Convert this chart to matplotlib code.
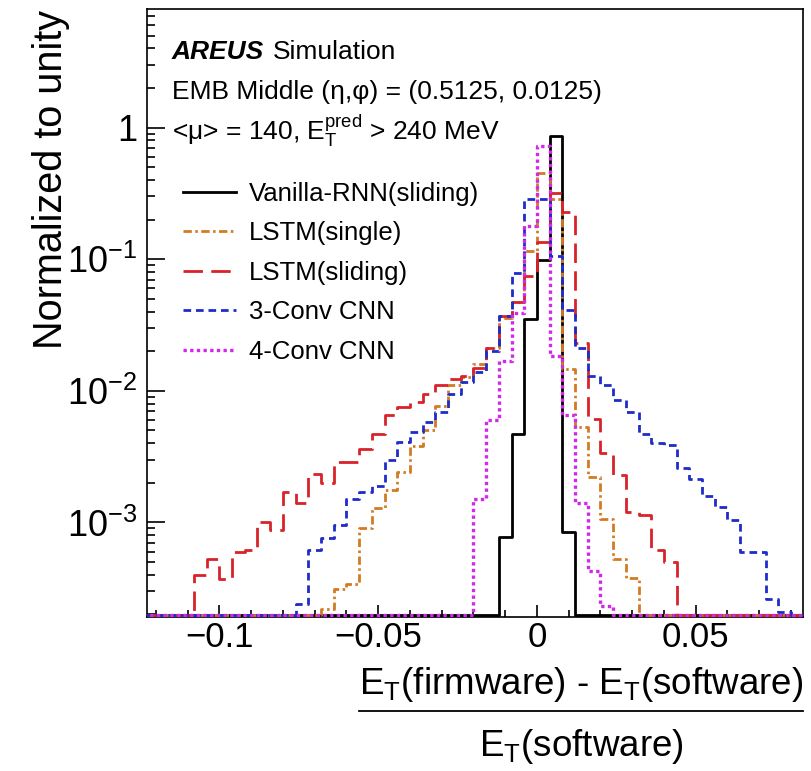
import numpy as np
import matplotlib.pyplot as plt
from matplotlib.lines import Line2D
from matplotlib.ticker import LogLocator, MultipleLocator, NullFormatter

plt.rcParams['font.family'] = ['Liberation Sans', 'DejaVu Sans']
plt.rcParams['mathtext.fontset'] = 'custom'
plt.rcParams['mathtext.rm'] = 'Liberation Sans'
plt.rcParams['mathtext.it'] = 'Liberation Sans:italic'
plt.rcParams['mathtext.bf'] = 'Liberation Sans:bold'
plt.rcParams['lines.scale_dashes'] = False

# histogram binning: 52 bins of 0.004 from -0.124 to 0.084
x_lo, x_hi, n_bins = -0.124, 0.084, 52

# normalized bin contents (0 = empty bin)
vanilla_rnn = [0, 0, 0, 0, 0, 0, 0, 0, 0, 0, 0, 0, 0,
               0, 0, 0, 0, 0, 0, 0, 0, 0, 0, 0, 0, 0,
               0, 0, 7.8e-4, 4.7e-3, 0.035, 0.098, 0.86, 8.5e-4, 0, 0, 0, 0, 0,
               0, 0, 0, 0, 0, 0, 0, 0, 0, 0, 0, 0, 0]
lstm_single = [0, 0, 0, 0, 0, 0, 0, 0, 0, 0, 0, 0, 0,
               0, 2.2e-4, 3.1e-4, 3.4e-4, 9.0e-4, 1.28e-3, 1.75e-3, 2.4e-3, 3.8e-3, 5.0e-3, 7.7e-3, 0.011, 0.0127,
               0.016, 0.021, 0.036, 0.047, 0.116, 0.45, 0.285, 0.0147, 5.3e-3, 2.2e-3, 1.07e-3, 5.3e-4, 3.8e-4,
               0, 0, 0, 0, 0, 0, 0, 0, 0, 0, 0, 0, 0]
lstm_sliding = [0, 0, 0, 0, 4.0e-4, 5.3e-4, 3.7e-4, 6.0e-4, 6.2e-4, 1.0e-3, 8.8e-4, 1.7e-3, 1.4e-3,
                2.35e-3, 2.0e-3, 2.9e-3, 2.9e-3, 3.6e-3, 4.7e-3, 6.5e-3, 7.5e-3, 8.2e-3, 9.5e-3, 0.011, 0.0122, 0.013,
                0.015, 0.021, 0.037, 0.047, 0.075, 0.135, 0.32, 0.23, 0.023, 6.1e-3, 3.4e-3, 2.3e-3, 1.2e-3,
                1.14e-3, 6.2e-4, 5.0e-4, 0, 0, 0, 0, 0, 0, 0, 0, 0, 0]
cnn_3conv = [0, 0, 0, 0, 0, 0, 0, 0, 0, 0, 0, 0, 2.4e-4,
             6.2e-4, 7.6e-4, 9.5e-4, 1.5e-3, 1.7e-3, 1.9e-3, 3.0e-3, 4.1e-3, 4.9e-3, 5.8e-3, 6.9e-3, 9.5e-3, 0.0116,
             0.014, 0.020, 0.037, 0.079, 0.285, 0.285, 0.106, 0.041, 0.021, 0.013, 0.011, 8.5e-3, 6.9e-3,
             4.7e-3, 4.0e-3, 3.9e-3, 2.6e-3, 2.15e-3, 1.6e-3, 1.3e-3, 1.04e-3, 6.0e-4, 6.0e-4, 2.6e-4, 2.1e-4, 0]
cnn_4conv = [0, 0, 0, 0, 0, 0, 0, 0, 0, 0, 0, 0, 0,
             0, 0, 0, 0, 0, 0, 0, 0, 0, 0, 0, 0, 0,
             1.5e-3, 6.0e-3, 0.017, 0.039, 0.18, 0.73, 0.0185, 6.5e-3, 1.4e-3, 4.3e-4, 2.3e-4, 0, 0,
             0, 0, 0, 0, 0, 0, 0, 0, 0, 0, 0, 0, 0]

labels = ['Vanilla-RNN(sliding)', 'LSTM(single)', 'LSTM(sliding)', '3-Conv CNN', '4-Conv CNN']
colors = ['black', '#d27b24', '#d8232a', '#1f2dc8', '#cf2ae8']
styles = ['-', (0, (6, 2.5, 1.8, 2.5)), (0, (14, 6)), (0, (5.5, 3.5)), (0, (2.4, 2.4))]

xticks = [-0.1, -0.05, 0, 0.05]
xtick_labels = ['\u22120.1', '\u22120.05', '0', '0.05']
yticks = [1e-3, 1e-2, 1e-1, 1]
ytick_labels = ['$10^{-3}$', '$10^{-2}$', '$10^{-1}$', '1']

y_min, y_max = 1.97e-4, 7.97

W, H = 811, 771
fig = plt.figure(figsize=(W / 100, H / 100), dpi=100)
ax = fig.add_axes([147 / W, 1 - 617 / H, (803 - 147) / W, (617 - 9) / H])

edges = np.linspace(x_lo, x_hi, n_bins + 1)
for lab, vals, col, ls in zip(labels, [vanilla_rnn, lstm_single, lstm_sliding, cnn_3conv, cnn_4conv], colors, styles):
    v = np.array(vals, dtype=float)
    v = np.where(v > 0, v, y_min)  # empty bins sit on the frame bottom, like ROOT
    lw = 2.4 if col == '#cf2ae8' else 2.0
    ax.step(edges, np.append(v, v[-1]), where='post', color=col, linestyle=ls,
            lw=lw, label=lab, dash_capstyle='butt', zorder=3)

ax.set_yscale('log')
ax.set_xlim(-0.1228, 0.0838)
ax.set_ylim(y_min / 1.03, y_max)
ax.set_xticks(xticks, xtick_labels)
ax.xaxis.set_minor_locator(MultipleLocator(0.01))
ax.set_yticks(yticks, ytick_labels)
ax.yaxis.set_minor_locator(LogLocator(base=10, subs=np.arange(2, 10)))
ax.yaxis.set_minor_formatter(NullFormatter())

ax.tick_params(which='both', direction='in', top=False, right=False, width=1.2)
ax.tick_params(axis='y', which='major', length=13, pad=7, labelsize=26)
ax.tick_params(axis='y', which='minor', length=6)
ax.tick_params(axis='x', which='major', length=8.5, pad=3, labelsize=25)
ax.tick_params(axis='x', which='minor', length=5)
for s in ax.spines.values():
    s.set_linewidth(1.2)

# info text
fig.text(172 / W, 1 - 59 / H, 'AREUS', fontsize=19, fontweight='bold',
         fontstyle='italic', va='baseline')
fig.text(273 / W, 1 - 59 / H, 'Simulation', fontsize=19, va='baseline')
fig.text(172 / W, 1 - 99 / H, 'EMB Middle (\u03b7,\u03c6) = (0.5125, 0.0125)', fontsize=19, va='baseline')
fig.text(172 / W, 1 - 140 / H, '<\u03bc> = 140, $\\mathrm{E}_{\\mathrm{T}}^{\\mathrm{pred}}$ > 240 MeV',
         fontsize=19, va='baseline')

ax.legend(loc='upper left', bbox_to_anchor=(183 / W, 1 - 182 / H), bbox_transform=fig.transFigure,
          frameon=False, fontsize=18.5, handlelength=2.06, handletextpad=0.5,
          labelspacing=0.6, borderpad=0, borderaxespad=0)

# axis titles
fig.text(51 / W, 1 - 10 / H, 'Normalized to unity', rotation=90, ha='center', va='top', fontsize=28.5)
num = fig.text(803 / W, 1 - 694 / H, 'E$_{\\mathrm{T}}$(firmware) - E$_{\\mathrm{T}}$(software)',
               ha='right', va='baseline', fontsize=26.5)
fig.canvas.draw()
bb = num.get_window_extent()
x0, x1 = bb.x0 / W, bb.x1 / W
fig.add_artist(Line2D([x0, x1], [1 - 711 / H, 1 - 711 / H], color='black', lw=1.3))
fig.text((x0 + x1) / 2, 1 - 756 / H, 'E$_{\\mathrm{T}}$(software)', ha='center', va='baseline', fontsize=26.5)

fig.savefig('out.png', dpi=100)
